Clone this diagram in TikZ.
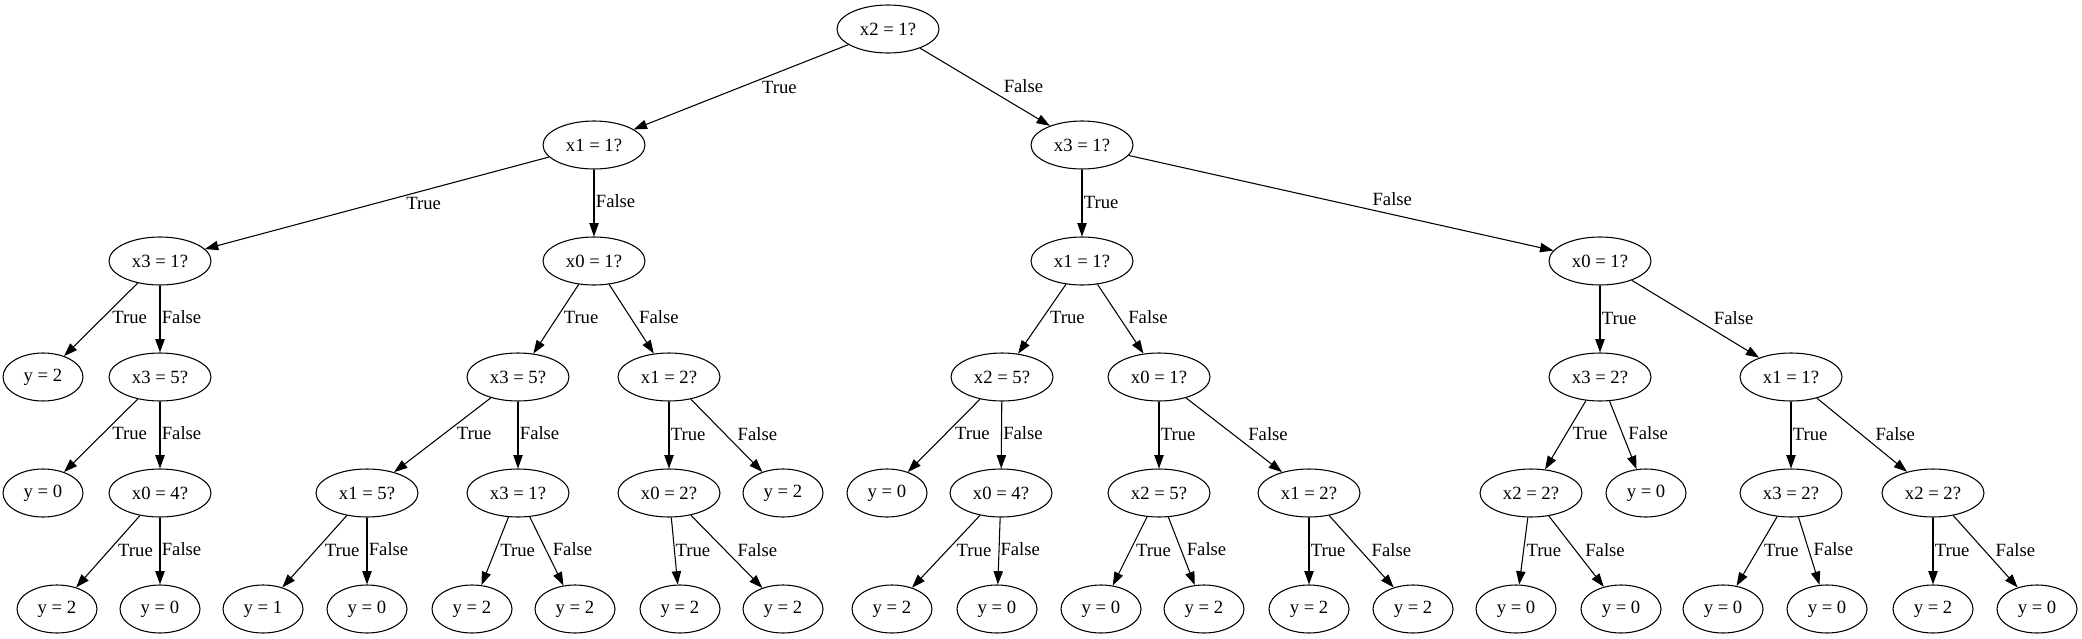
\documentclass[tikz,border=0pt]{standalone}
\usepackage{fontspec}
\setmainfont{Liberation Serif}
\usetikzlibrary{shapes.geometric,arrows.meta}
\begin{document}
\begin{tikzpicture}[x=0.75pt,y=0.75pt,yscale=-1,xscale=1,
  test/.style={draw, ellipse, line width=0.8pt, minimum width=76.5pt, minimum height=36pt, inner sep=0pt, font=\fontsize{14}{16}\selectfont},
  leaf/.style={test, minimum width=60pt},
  edge/.style={line width=0.8pt, -{Triangle[length=10pt,width=7pt]}},
  tlab/.style={pos=0.37, anchor=north west, inner sep=1pt, text height=9pt, text depth=2pt, font=\fontsize{14}{16}\selectfont},
  flab/.style={tlab, pos=0.63, anchor=south west}]
\useasboundingbox (0,0) rectangle (2082,639);
%Nodes row 0 and 1
\node[test] (n) at (888,29) {x2 = 1?};
\node[test] (nT) at (594,145) {x1 = 1?};
\node[test] (nF) at (1082,145) {x3 = 1?};
%Nodes row 2
\node[test] (nTT) at (160,261) {x3 = 1?};
\node[test] (nTF) at (594,261) {x0 = 1?};
\node[test] (nFT) at (1082,261) {x1 = 1?};
\node[test] (nFF) at (1600,261) {x0 = 1?};
%Nodes row 3
\node[leaf] (nTTT) at (43,377) {y = 2};
\node[test] (nTTF) at (160,377) {x3 = 5?};
\node[test] (nTFT) at (518,377) {x3 = 5?};
\node[test] (nTFF) at (669,377) {x1 = 2?};
\node[test] (nFTT) at (1002,377) {x2 = 5?};
\node[test] (nFTF) at (1159,377) {x0 = 1?};
\node[test] (nFFT) at (1600,377) {x3 = 2?};
\node[test] (nFFF) at (1791,377) {x1 = 1?};
%Nodes row 4
\node[leaf] (nTTFT) at (43,493) {y = 0};
\node[test] (nTTFF) at (160,493) {x0 = 4?};
\node[test] (nTFTT) at (367,493) {x1 = 5?};
\node[test] (nTFTF) at (518,493) {x3 = 1?};
\node[test] (nTFFT) at (669,493) {x0 = 2?};
\node[leaf] (nTFFF) at (783,493) {y = 2};
\node[leaf] (nFTTT) at (887,493) {y = 0};
\node[test] (nFTTF) at (1001,493) {x0 = 4?};
\node[test] (nFTFT) at (1159,493) {x2 = 5?};
\node[test] (nFTFF) at (1309,493) {x1 = 2?};
\node[test] (nFFTT) at (1531,493) {x2 = 2?};
\node[leaf] (nFFTF) at (1646,493) {y = 0};
\node[test] (nFFFT) at (1791,493) {x3 = 2?};
\node[test] (nFFFF) at (1933,493) {x2 = 2?};
%Leaves row 5
\node[leaf] (nTTFFT) at (57,609) {y = 2};
\node[leaf] (nTTFFF) at (160,609) {y = 0};
\node[leaf] (nTFTTT) at (263,609) {y = 1};
\node[leaf] (nTFTTF) at (367,609) {y = 0};
\node[leaf] (nTFTFT) at (472,609) {y = 2};
\node[leaf] (nTFTFF) at (575,609) {y = 2};
\node[leaf] (nTFFTT) at (680,609) {y = 2};
\node[leaf] (nTFFTF) at (783,609) {y = 2};
\node[leaf] (nFTTFT) at (892,609) {y = 2};
\node[leaf] (nFTTFF) at (997,609) {y = 0};
\node[leaf] (nFTFTT) at (1101,609) {y = 0};
\node[leaf] (nFTFTF) at (1204,609) {y = 2};
\node[leaf] (nFTFFT) at (1309,609) {y = 2};
\node[leaf] (nFTFFF) at (1413,609) {y = 2};
\node[leaf] (nFFTTT) at (1516,609) {y = 0};
\node[leaf] (nFFTTF) at (1621,609) {y = 0};
\node[leaf] (nFFFTT) at (1723,609) {y = 0};
\node[leaf] (nFFFTF) at (1827,609) {y = 0};
\node[leaf] (nFFFFT) at (1933,609) {y = 2};
\node[leaf] (nFFFFF) at (2037,609) {y = 0};
%Edges
\draw[edge] (n) -- node[tlab, pos=0.41] {True} (nT);
\draw[edge] (n) -- node[flab] {False} (nF);
\draw[edge] (nT) -- node[tlab, pos=0.42] {True} (nTT);
\draw[edge] (nT) -- node[flab] {False} (nTF);
\draw[edge] (nF) -- node[tlab] {True} (nFT);
\draw[edge] (nF) -- node[flab, pos=0.57] {False} (nFF);
\draw[edge] (nTT) -- node[tlab] {True} (nTTT);
\draw[edge] (nTT) -- node[flab] {False} (nTTF);
\draw[edge] (nTF) -- node[tlab] {True} (nTFT);
\draw[edge] (nTF) -- node[flab] {False} (nTFF);
\draw[edge] (nFT) -- node[tlab] {True} (nFTT);
\draw[edge] (nFT) -- node[flab] {False} (nFTF);
\draw[edge] (nFF) -- node[tlab] {True} (nFFT);
\draw[edge] (nFF) -- node[flab] {False} (nFFF);
\draw[edge] (nTTF) -- node[tlab] {True} (nTTFT);
\draw[edge] (nTTF) -- node[flab] {False} (nTTFF);
\draw[edge] (nTFT) -- node[tlab] {True} (nTFTT);
\draw[edge] (nTFT) -- node[flab] {False} (nTFTF);
\draw[edge] (nTFF) -- node[tlab] {True} (nTFFT);
\draw[edge] (nTFF) -- node[flab] {False} (nTFFF);
\draw[edge] (nFTT) -- node[tlab] {True} (nFTTT);
\draw[edge] (nFTT) -- node[flab] {False} (nFTTF);
\draw[edge] (nFTF) -- node[tlab] {True} (nFTFT);
\draw[edge] (nFTF) -- node[flab] {False} (nFTFF);
\draw[edge] (nFFT) -- node[tlab] {True} (nFFTT);
\draw[edge] (nFFT) -- node[flab] {False} (nFFTF);
\draw[edge] (nFFF) -- node[tlab] {True} (nFFFT);
\draw[edge] (nFFF) -- node[flab] {False} (nFFFF);
\draw[edge] (nTTFF) -- node[tlab] {True} (nTTFFT);
\draw[edge] (nTTFF) -- node[flab] {False} (nTTFFF);
\draw[edge] (nTFTT) -- node[tlab] {True} (nTFTTT);
\draw[edge] (nTFTT) -- node[flab] {False} (nTFTTF);
\draw[edge] (nTFTF) -- node[tlab] {True} (nTFTFT);
\draw[edge] (nTFTF) -- node[flab] {False} (nTFTFF);
\draw[edge] (nTFFT) -- node[tlab] {True} (nTFFTT);
\draw[edge] (nTFFT) -- node[flab] {False} (nTFFTF);
\draw[edge] (nFTTF) -- node[tlab] {True} (nFTTFT);
\draw[edge] (nFTTF) -- node[flab] {False} (nFTTFF);
\draw[edge] (nFTFT) -- node[tlab] {True} (nFTFTT);
\draw[edge] (nFTFT) -- node[flab] {False} (nFTFTF);
\draw[edge] (nFTFF) -- node[tlab] {True} (nFTFFT);
\draw[edge] (nFTFF) -- node[flab] {False} (nFTFFF);
\draw[edge] (nFFTT) -- node[tlab] {True} (nFFTTT);
\draw[edge] (nFFTT) -- node[flab] {False} (nFFTTF);
\draw[edge] (nFFFT) -- node[tlab] {True} (nFFFTT);
\draw[edge] (nFFFT) -- node[flab] {False} (nFFFTF);
\draw[edge] (nFFFF) -- node[tlab] {True} (nFFFFT);
\draw[edge] (nFFFF) -- node[flab] {False} (nFFFFF);
\end{tikzpicture}
\end{document}
